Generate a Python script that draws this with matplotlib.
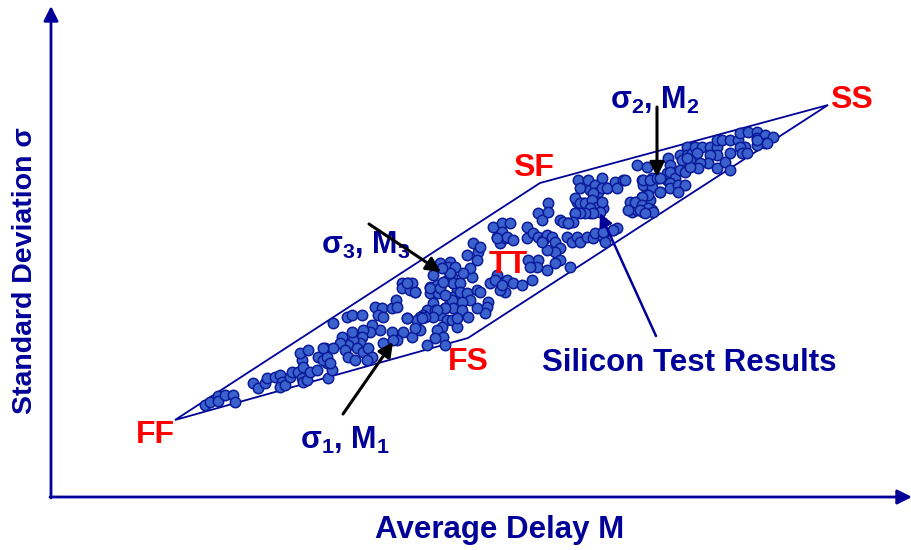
import matplotlib.pyplot as plt

plt.rcParams['font.family'] = ['Liberation Sans', 'DejaVu Sans']
plt.rcParams['font.weight'] = 'bold'
plt.rcParams['mathtext.fontset'] = 'custom'
plt.rcParams['mathtext.rm'] = 'Liberation Sans:bold'
plt.rcParams['mathtext.it'] = 'Liberation Sans:bold'
plt.rcParams['mathtext.bf'] = 'Liberation Sans:bold'
plt.rcParams['mathtext.default'] = 'rm'

NAVY = '#000099'
RED = '#ff0000'

# silicon test results (average delay M, std deviation sigma) - screen-like units, sigma grows upward
delay = [205, 210, 218, 218, 225, 233, 235, 253, 258, 265, 267, 275, 280, 282, 280, 285, 290, 292, 298, 302,
         303, 307, 302, 300, 308, 303, 310, 317, 318, 325, 327, 323, 328, 332, 333,
         347, 352, 362, 375, 382, 378, 383, 392, 396, 397, 402, 402, 408, 415, 410, 430, 430, 437, 438,
         433, 427, 423, 420, 417, 435, 445, 440, 447, 442, 437, 443, 445, 435, 427, 420, 412, 407, 415,
         403, 397, 392, 393, 383, 380, 372, 370, 363, 362, 360, 353, 352, 348, 342, 340, 345, 348, 357,
         363, 368, 372, 367, 355, 333, 327, 323, 330, 440, 448, 452, 447, 453, 457, 453, 450, 457, 452, 457,
         473, 478, 477, 467, 480, 497, 500, 505, 497, 502, 505, 500, 488, 487, 485, 490, 472, 470, 463,
         450, 448, 455, 450, 442, 433, 453, 460, 460, 467, 477, 480, 470, 462, 452, 453, 462, 468, 477,
         457, 445, 437, 433, 425, 422, 407, 412, 407, 415, 430, 440, 443, 445,
         493, 502, 510, 502, 497, 507, 513, 527, 527, 533, 538, 542, 548, 548, 538, 543, 547, 552, 555,
         560, 560, 555, 547, 542, 568, 567, 572, 577, 580, 587, 593, 595, 603, 605, 603, 613, 575, 580,
         578, 588, 580, 590, 595, 598, 603, 607, 583, 590, 593, 600, 598, 603, 590, 587, 577, 560, 555,
         570, 538, 537, 547, 528, 530, 495, 507, 502, 513, 522, 532,
         602, 602, 607, 615, 617, 623, 593, 575, 580, 585, 592, 597, 602, 590, 600, 593, 585, 580, 575,
         573, 630, 632, 638, 642, 645, 647, 650, 652, 643, 637, 642, 643, 652, 652, 658, 660, 637, 647,
         667, 667, 563, 568, 617, 613,
         625, 643, 650, 657, 660, 668, 670, 670, 675, 680, 685, 670, 670, 678, 685, 678, 660, 648, 642,
         635, 642, 648, 653, 628, 640, 645, 680, 687, 687, 692, 695, 702, 710, 717, 717, 722, 730, 738,
         740, 748, 757, 757, 765, 773, 765, 757, 745, 740, 742, 747, 730, 717, 710, 708, 700, 697, 690,
         682, 717, 725, 730, 698, 690, 767, 757, 687]
sigma = [405, 402, 396, 401, 395, 395, 402, 383, 388, 383, 378, 377, 375, 382, 387, 385, 377, 372, 372, 378,
         382, 380, 360, 353, 350, 367, 372, 370, 357, 348, 363, 360, 378, 370, 323,
         317, 315, 315, 307, 308, 315, 317, 308, 300, 307, 283, 288, 283, 292, 290, 287, 293, 285, 293,
         303, 310, 315, 317, 320, 310, 308, 315, 320, 327, 330, 337, 345, 338, 345, 330, 337, 318, 328,
         332, 340, 332, 340, 343, 330, 325, 332, 330, 337, 343, 340, 332, 345, 337, 343, 350, 357, 348,
         352, 348, 357, 360, 360, 348, 357, 348, 363, 263, 270, 277, 280, 283, 290, 297, 302, 307, 320, 327,
         243, 252, 260, 255, 247, 237, 243, 238, 275, 283, 292, 290, 302, 307, 313, 283, 277, 268, 273,
         262, 267, 267, 273, 268, 275, 283, 283, 292, 293, 290, 292, 300, 302, 300, 308, 310, 317, 308,
         318, 308, 310, 317, 317, 318, 318, 283, 283, 292, 288, 288, 282, 295,
         227, 223, 223, 232, 238, 237, 240, 227, 238, 233, 213, 220, 203, 212, 237, 240, 235, 237, 242,
         220, 248, 252, 250, 242, 223, 237, 242, 237, 242, 237, 238, 233, 237, 242, 232, 230, 213, 208,
         180, 180, 188, 190, 185, 192, 187, 188, 203, 203, 200, 203, 210, 208, 213, 210, 202, 260, 263,
         267, 260, 267, 270, 260, 267, 280, 280, 285, 283, 285, 280,
         178, 188, 188, 182, 188, 180, 193, 198, 203, 203, 200, 207, 202, 208, 212, 213, 213, 213, 213,
         222, 202, 212, 203, 197, 203, 193, 200, 210, 212, 210, 180, 185, 187, 178, 178, 192, 165, 167,
         180, 173, 222, 223, 228, 230,
         180, 180, 180, 178, 178, 158, 165, 172, 178, 170, 172, 183, 188, 185, 185, 192, 192, 195, 197,
         202, 205, 208, 212, 210, 210, 213, 155, 147, 155, 153, 147, 147, 147, 147, 140, 140, 140, 140,
         133, 132, 132, 138, 135, 137, 143, 145, 147, 147, 153, 153, 153, 155, 155, 163, 163, 153, 160,
         160, 168, 162, 170, 168, 167, 143, 140, 158]

# corner envelope (FF -> SF -> SS -> FS)
corner_names = ['FF', 'SF', 'SS', 'FS']
corner_delay = [175, 540, 828, 468]
corner_sigma = [420, 183, 105, 338]

fig = plt.figure(figsize=(9.12, 5.5), dpi=100)
ax = fig.add_axes([0, 0, 1, 1])
ax.set_xlim(0, 912)
ax.set_ylim(550, 0)
ax.axis('off')

# axes with arrows
ax.annotate('', xy=(51, 6), xytext=(51, 498),
            arrowprops=dict(arrowstyle='-|>', color=NAVY, lw=2, mutation_scale=22, shrinkA=0, shrinkB=0))
ax.annotate('', xy=(912, 497), xytext=(50, 497),
            arrowprops=dict(arrowstyle='-|>', color=NAVY, lw=2, mutation_scale=22, shrinkA=0, shrinkB=0))
ax.text(500, 530, 'Average Delay M', color=NAVY, fontsize=22.5, fontweight='bold', ha='center', va='center')
ax.text(25, 271, 'Standard Deviation σ', color=NAVY, fontsize=20.5, fontweight='bold',
        ha='center', va='center', rotation=90)

ax.fill(corner_delay, corner_sigma, fill=False, edgecolor=NAVY, lw=1.3, zorder=2)

ax.scatter(delay, sigma, s=56, facecolor='#3b62cc', edgecolor='#0a1a9a', linewidth=1.1, zorder=3)

# corner labels
corner_label_pos = [(155, 435), (533, 168), (851, 100), (468, 362)]
for name, (lx, ly) in zip(corner_names, corner_label_pos):
    ax.text(lx, ly, name, color=RED, fontsize=23, fontweight='bold', ha='center', va='center', zorder=5)
ax.text(508, 265, 'TT', color=RED, fontsize=23, fontweight='bold', ha='center', va='center', zorder=5)

# annotations
arrow_black = dict(arrowstyle='-|>', color='black', lw=2.2, mutation_scale=22, shrinkA=0, shrinkB=0)
ax.annotate('', xy=(441, 272), xytext=(369, 224), arrowprops=arrow_black, zorder=6)
ax.text(366, 245, 'σ$_3$, M$_3$', color=NAVY, fontsize=22, fontweight='bold', ha='center', va='center')
ax.annotate('', xy=(393, 342), xytext=(343, 414), arrowprops=arrow_black, zorder=6)
ax.text(345, 440, 'σ$_1$, M$_1$', color=NAVY, fontsize=22, fontweight='bold', ha='center', va='center')
ax.annotate('', xy=(657, 177), xytext=(657, 107), arrowprops=arrow_black, zorder=6)
ax.text(655, 100, 'σ$_2$, M$_2$', color=NAVY, fontsize=22, fontweight='bold', ha='center', va='center',
        bbox=dict(facecolor='white', edgecolor='none', pad=0), zorder=5)

ax.annotate('', xy=(600, 213), xytext=(656, 336),
            arrowprops=dict(arrowstyle='-|>', color=NAVY, lw=1.8, mutation_scale=20, shrinkA=0, shrinkB=0),
            zorder=6)
ax.text(689, 363, 'Silicon Test Results', color=NAVY, fontsize=22.5, fontweight='bold', ha='center', va='center')

fig.savefig('out.png', dpi=100)
